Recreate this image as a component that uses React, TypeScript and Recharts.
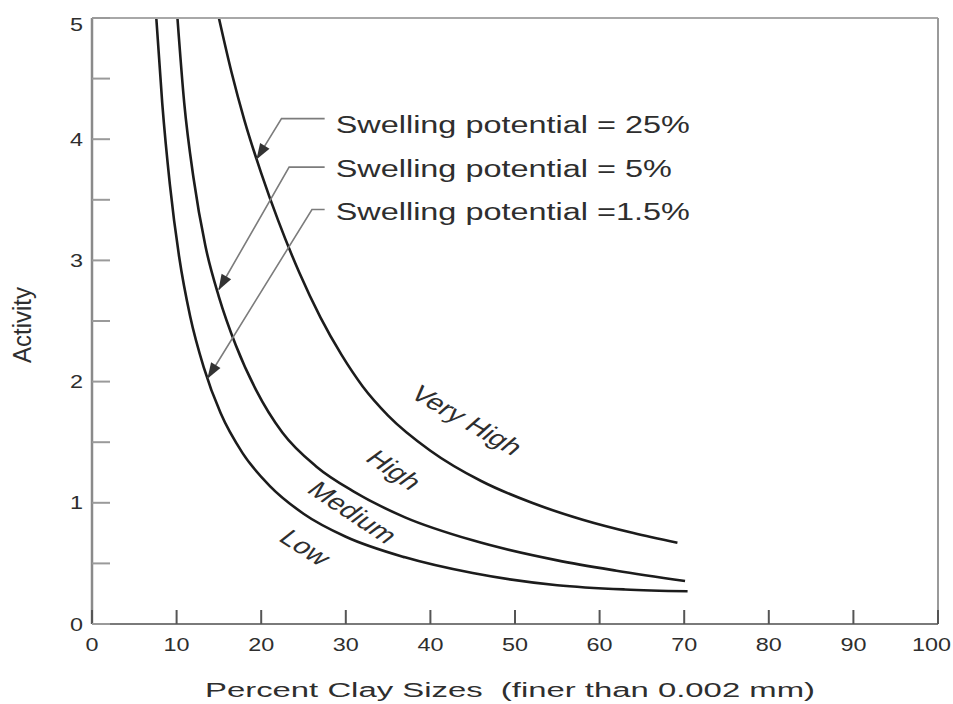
import React from 'react'
import { LineChart, Line, XAxis, YAxis, ReferenceDot, Label } from 'recharts'

const FONT = '"Liberation Sans", Arial, Helvetica, sans-serif'
const INK = '#2e2e2e'
const CURVE = '#1c1c1c'
const LEADER = '#7c7c7c'

const xTicks = [0, 10, 20, 30, 40, 50, 60, 70, 80, 90, 100]
const yTicks = [0, 0.5, 1, 1.5, 2, 2.5, 3, 3.5, 4, 4.5, 5]

// swelling potential = 1.5 %  (Low / Medium boundary)
const lowClay = [7.6, 8.3, 9.2, 10.3, 11.6, 13.2, 15.2, 17.8, 21.0, 25.0, 30.0, 37.0, 45.0, 55.0, 63.0, 70.4]
const lowActivity = [5.0, 4.3, 3.63, 3.03, 2.54, 2.12, 1.74, 1.41, 1.14, 0.91, 0.72, 0.55, 0.42, 0.32, 0.285, 0.27]

// swelling potential = 5 %  (Medium / High boundary)
const midClay = [10.1, 10.9, 12.0, 13.4, 15.0, 17.0, 19.4, 22.5, 26.5, 31.0, 37.0, 45.0, 55.0, 62.0, 70.1]
const midActivity = [5.0, 4.3, 3.68, 3.12, 2.7, 2.3, 1.93, 1.58, 1.3, 1.09, 0.88, 0.69, 0.525, 0.44, 0.355]

// swelling potential = 25 %  (High / Very High boundary)
const highClay = [15.0, 16.5, 18.0, 20.0, 22.0, 24.5, 27.0, 29.5, 32.0, 35.0, 40.0, 46.0, 52.0, 58.0, 64.0, 69.2]
const highActivity = [5.0, 4.55, 4.16, 3.72, 3.33, 2.9, 2.53, 2.22, 1.96, 1.72, 1.43, 1.18, 1.0, 0.86, 0.75, 0.67]

// callouts
const noteText = ['Swelling potential = 25%', 'Swelling potential = 5%', 'Swelling potential =1.5%']
const noteClay = [28.8, 28.8, 28.8]
const noteActivity = [4.05, 3.69, 3.33]
const leaderClay = [
  [27.5, 22.4, 19.5],
  [27.5, 23.3, 15.0],
  [27.5, 26.0, 13.7],
]
const leaderActivity = [
  [4.17, 4.17, 3.84],
  [3.77, 3.77, 2.76],
  [3.42, 3.42, 2.03],
]

// zone names written along the curves
const zoneText = ['Very High', 'High', 'Medium', 'Low']
const zoneClay = [44.3, 35.7, 30.8, 25.2]
const zoneActivity = [1.68, 1.27, 0.92, 0.63]
const zoneAngle = [39, 44, 43, 42]

const toRows = (clay: number[], act: number[]) => clay.map((c, i) => ({ clay: c, activity: act[i] }))

const BottomTick = (props: any) => {
  const { x, y, payload } = props
  const label = String(payload.value)
  const half = label.length * 0.556 * 18 * 1.3 / 2
  const cx = Math.min(x, 951 - half)
  return (
    <g>
      <line x1={x} y1={y} x2={x} y2={y - 14} stroke="#555" strokeWidth={2} />
      <text
        transform={`translate(${cx},${y + 27}) scale(1.3,1)`}
        textAnchor="middle"
        fontSize={18}
        fontFamily={FONT}
        fill={INK}
      >
        {label}
      </text>
    </g>
  )
}

const TopTick = (props: any) => {
  const { x, y } = props
  return <line x1={x} y1={y} x2={x} y2={y + 14} stroke="#777" strokeWidth={2} />
}

const LeftTick = (props: any) => {
  const { x, y, payload } = props
  const v = payload.value
  const dy = v === 5 ? 6 : 0
  return (
    <g>
      <line x1={x} y1={y} x2={x + 18} y2={y} stroke="#9a9a9a" strokeWidth={2} />
      {Number.isInteger(v) && (
        <text
          transform={`translate(${x - 9},${y + dy + 6.5}) scale(1.3,1)`}
          textAnchor="end"
          fontSize={18}
          fontFamily={FONT}
          fill={INK}
        >
          {v}
        </text>
      )}
    </g>
  )
}

const RightTick = (props: any) => {
  const { x, y } = props
  return <line x1={x} y1={y} x2={x - 20} y2={y} stroke="#9a9a9a" strokeWidth={2} />
}

const XTitle = (props: any) => {
  const { x, y, width } = props.viewBox
  return (
    <text
      x={x + width / 2 - 5}
      y={y + 73}
      textAnchor="middle"
      fontSize={20}
      fontFamily={FONT}
      fill={INK}
      textLength={610}
      lengthAdjust="spacingAndGlyphs"
      style={{ whiteSpace: 'pre' }}
    >
      Percent Clay Sizes  (finer than 0.002 mm)
    </text>
  )
}

const YTitle = (props: any) => {
  const { y, height } = props.viewBox
  return (
    <text
      transform={`translate(22,${y + height / 2 + 4}) scale(1.3,1) rotate(-90)`}
      textAnchor="middle"
      dominantBaseline="central"
      fontSize={20}
      fontFamily={FONT}
      fill={INK}
      textLength={76}
      lengthAdjust="spacingAndGlyphs"
    >
      Activity
    </text>
  )
}

const ArrowDot = (props: any) => {
  const { cx, cy, index, points } = props
  if (!points || index !== points.length - 1) return <g key={`d-${index}`} />
  const prev = points[index - 1]
  const ang = (Math.atan2(cy - prev.y, cx - prev.x) * 180) / Math.PI
  return (
    <polygon
      key={`d-${index}`}
      points="1,0 -15,-5.5 -15,5.5"
      transform={`translate(${cx},${cy}) rotate(${ang})`}
      fill="#333"
    />
  )
}

export default function App() {
  const curves = [
    { name: 'low', rows: toRows(lowClay, lowActivity) },
    { name: 'medium', rows: toRows(midClay, midActivity) },
    { name: 'high', rows: toRows(highClay, highActivity) },
  ]

  return (
    <div style={{ position: 'absolute', left: 0, top: 0, width: 953, height: 704, background: '#fff' }}>
      <LineChart width={953} height={704} margin={{ top: 0, right: 0, bottom: 0, left: 0 }}>
        <XAxis
          type="number"
          dataKey="clay"
          domain={[0, 100]}
          ticks={xTicks}
          interval={0}
          height={80}
          tickSize={0}
          tickMargin={0}
          tickLine={false}
          tick={<BottomTick />}
          axisLine={{ stroke: '#7a7a7a', strokeWidth: 2 }}
        >
          <Label content={<XTitle />} />
        </XAxis>
        <XAxis
          xAxisId="top"
          orientation="top"
          type="number"
          domain={[0, 100]}
          ticks={xTicks}
          interval={0}
          height={18}
          tickSize={0}
          tickMargin={0}
          tickLine={false}
          tick={<TopTick />}
          axisLine={{ stroke: '#a8a8a8', strokeWidth: 2 }}
        />
        <YAxis
          type="number"
          domain={[0, 5]}
          ticks={yTicks}
          interval={0}
          width={92}
          tickSize={0}
          tickMargin={0}
          tickLine={false}
          tick={<LeftTick />}
          axisLine={{ stroke: '#8a8a8a', strokeWidth: 2.5 }}
        >
          <Label content={<YTitle />} />
        </YAxis>
        <YAxis
          yAxisId="right"
          orientation="right"
          type="number"
          domain={[0, 5]}
          ticks={yTicks}
          interval={0}
          width={15}
          tickSize={0}
          tickMargin={0}
          tickLine={false}
          tick={<RightTick />}
          axisLine={{ stroke: '#9a9a9a', strokeWidth: 2 }}
        />

        {curves.map((c) => (
          <Line
            key={c.name}
            data={c.rows}
            dataKey="activity"
            type="monotone"
            stroke={CURVE}
            strokeWidth={2.6}
            dot={false}
            activeDot={false}
            isAnimationActive={false}
          />
        ))}

        {leaderClay.map((lc, i) => (
          <Line
            key={`leader-${i}`}
            data={toRows(lc, leaderActivity[i])}
            dataKey="activity"
            type="linear"
            stroke={LEADER}
            strokeWidth={1.6}
            dot={ArrowDot}
            activeDot={false}
            isAnimationActive={false}
          />
        ))}

        {noteText.map((t, i) => (
          <ReferenceDot
            key={`note-${i}`}
            x={noteClay[i]}
            y={noteActivity[i]}
            r={1}
            shape={(p: any) => (
              <text
                transform={`translate(${p.cx},${p.cy}) scale(1.41,1)`}
                fontSize={23}
                fontFamily={FONT}
                fill={INK}
              >
                {t}
              </text>
            )}
          />
        ))}

        {zoneText.map((t, i) => (
          <ReferenceDot
            key={`zone-${i}`}
            x={zoneClay[i]}
            y={zoneActivity[i]}
            r={1}
            shape={(p: any) => (
              <text
                transform={`translate(${p.cx},${p.cy}) scale(1.4,1) rotate(${zoneAngle[i]})`}
                textAnchor="middle"
                dominantBaseline="central"
                fontSize={22}
                fontFamily={FONT}
                fill={INK}
              >
                {t}
              </text>
            )}
          />
        ))}
      </LineChart>
    </div>
  )
}
